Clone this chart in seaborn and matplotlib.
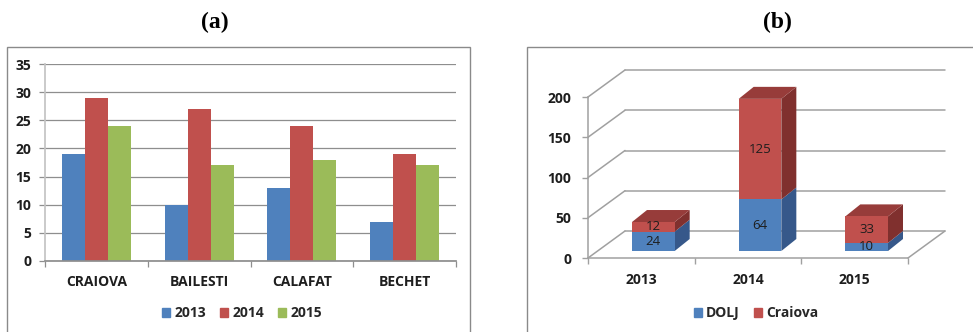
import numpy as np
import pandas as pd
import matplotlib
matplotlib.use("Agg")
import matplotlib.pyplot as plt
import seaborn as sns
from matplotlib.patches import Rectangle, Polygon
from matplotlib.lines import Line2D
from matplotlib.transforms import ScaledTranslation, IdentityTransform

# ---- panel (a): cases per town and year ----
towns = ["CRAIOVA", "BAILESTI", "CALAFAT", "BECHET"]
years_a = ["2013", "2014", "2015"]
v2013 = [19, 10, 13, 7]
v2014 = [29, 27, 24, 19]
v2015 = [24, 17, 18, 17]
yticks_a = [0, 5, 10, 15, 20, 25, 30, 35]

# ---- panel (b): DOLJ vs Craiova, stacked ----
years_b = ["2013", "2014", "2015"]
dolj = [24, 64, 10]
craiova = [12, 125, 33]
yticks_b = [0, 50, 100, 150, 200]

BLUE, RED, GREEN = "#4F81BD", "#C0504D", "#9BBB59"
BLUE_SIDE, RED_SIDE, RED_TOP = "#36588A", "#80302E", "#973C3A"
GRID = "#8E8E8E"
FRAME = "#8A8A8A"
TXT = "#1E1E1E"
FS = 10

sns.set_theme(style="white")
plt.rcParams["font.family"] = ["Open Sans", "DejaVu Sans"]

W, H = 973, 332
fig = plt.figure(figsize=(W / 100, H / 100), dpi=100)


def box(x0, y_top, x1, y_bot):
    return [x0 / W, 1 - y_bot / H, (x1 - x0) / W, (y_bot - y_top) / H]


# panel frames
fig.add_artist(Rectangle((7 / W, -0.05), (470 - 7) / W, 1 - 47 / H + 0.05,
                         transform=fig.transFigure, fill=False,
                         edgecolor=FRAME, lw=1))
fig.add_artist(Rectangle((527 / W, -0.05), (1000 - 527) / W, 1 - 47 / H + 0.05,
                         transform=fig.transFigure, fill=False,
                         edgecolor=FRAME, lw=1))

# panel titles
for label, xc in [("(a)", 215), ("(b)", 777)]:
    fig.text(xc / W, 1 - 22 / H, label, ha="center", va="center",
             family="Liberation Serif", weight="bold", size=17, color="black")

# ================= panel (a) =================
ax1 = fig.add_axes(box(45, 64, 456, 261))
rows = []
for yr, vals in zip(years_a, [v2013, v2014, v2015]):
    for t, v in zip(towns, vals):
        rows.append({"town": t, "year": yr, "value": v})
df_a = pd.DataFrame(rows)
sns.barplot(data=df_a, x="town", y="value", hue="year", order=towns,
            hue_order=years_a, palette=[BLUE, RED, GREEN], width=0.67, gap=0,
            saturation=1, errorbar=None, linewidth=0, legend=False, ax=ax1)
ax1.set_xlim(-0.5, len(towns) - 0.5)
ax1.set_ylim(0, 35)
ax1.set_yticks(yticks_a)
ax1.set_xlabel("")
ax1.set_ylabel("")
ax1.yaxis.grid(True, color=GRID, lw=0.9)
ax1.set_axisbelow(True)
for s in ["top", "right"]:
    ax1.spines[s].set_visible(False)
ax1.spines["left"].set_color("#C4C4C4")
ax1.spines["bottom"].set_color(GRID)
ax1.set_xticks(np.arange(-0.5, len(towns)), minor=True)
ax1.tick_params(axis="x", which="major", length=0, pad=10,
                labelsize=FS, labelcolor=TXT)
ax1.tick_params(axis="x", which="minor", length=4, color=GRID, width=0.9,
                direction="out", bottom=True)
ax1.tick_params(axis="y", length=4, color=GRID, width=0.9, direction="out",
                left=True, pad=6, labelsize=FS, labelcolor=TXT)
for lab in ax1.get_xticklabels() + ax1.get_yticklabels():
    lab.set_fontweight("bold")

h_a = [Rectangle((0, 0), 1, 1, color=c) for c in [BLUE, RED, GREEN]]
fig.legend(h_a, years_a, loc="center", bbox_to_anchor=(242 / W, 1 - 313 / H),
           ncol=3, frameon=False, handlelength=0.6, handleheight=0.6,
           handletextpad=0.3, columnspacing=1.0,
           prop={"weight": "bold", "size": FS})

# ================= panel (b) =================
ax2 = fig.add_axes(box(588, 97, 908, 258))
totals = [d + c for d, c in zip(dolj, craiova)]
sns.barplot(x=years_b, y=totals, color=RED, width=0.4, saturation=1,
            errorbar=None, linewidth=0, ax=ax2)
sns.barplot(x=years_b, y=dolj, color=BLUE, width=0.4, saturation=1,
            errorbar=None, linewidth=0, ax=ax2)
ax2.set_xlim(-0.5, len(years_b) - 0.5)
ax2.set_ylim(0, 200)
ax2.set_yticks(yticks_b)

# oblique depth (pixels): floor/back wall, bar offset and bar depth
FLOOR = np.array([37.0, 27.0])
OFF = np.array([12.0, 7.0])
DEPTH = np.array([15.0, 12.0])


def px(x, y):
    return ax2.transData.transform((x, y))


def seg(p, q, **kw):
    ln = Line2D([p[0], q[0]], [p[1], q[1]], transform=IdentityTransform(),
                clip_on=False, **kw)
    ax2.add_line(ln)


x0, x1 = ax2.get_xlim()
for t in yticks_b:
    seg(px(x0, t) + FLOOR, px(x1, t) + FLOOR, color="#A0A0A0", lw=1.1, zorder=0)
    seg(px(x0, t), px(x0, t) + FLOOR, color="#A0A0A0", lw=1.1, zorder=0)
seg(px(x1, 0), px(x1, 0) + FLOOR, color="#A0A0A0", lw=1.1, zorder=0)

# shift bar fronts into the scene
shift = ScaledTranslation(OFF[0] / 100, OFF[1] / 100, fig.dpi_scale_trans)
n = len(years_b)
red_p = ax2.patches[:n]
blue_p = ax2.patches[n:2 * n]
for p in red_p + blue_p:
    p.set_transform(ax2.transData + shift)
    p.set_zorder(3)

for pr, pb in zip(red_p, blue_p):
    xl, xr = pr.get_x(), pr.get_x() + pr.get_width()
    yb, yt = pb.get_height(), pr.get_height()
    # blue side
    a, b = px(xr, 0) + OFF, px(xr, yb) + OFF
    ax2.add_patch(Polygon([a, b, b + DEPTH, a + DEPTH], closed=True,
                          facecolor=BLUE_SIDE, lw=0,
                          transform=IdentityTransform(), clip_on=False, zorder=2))
    # red side
    a, b = px(xr, yb) + OFF, px(xr, yt) + OFF
    ax2.add_patch(Polygon([a, b, b + DEPTH, a + DEPTH], closed=True,
                          facecolor=RED_SIDE, lw=0,
                          transform=IdentityTransform(), clip_on=False, zorder=2))
    # red top
    a, b = px(xl, yt) + OFF, px(xr, yt) + OFF
    ax2.add_patch(Polygon([a, b, b + DEPTH, a + DEPTH], closed=True,
                          facecolor=RED_TOP, lw=0,
                          transform=IdentityTransform(), clip_on=False, zorder=2))

# segment value labels
for i, (d, c) in enumerate(zip(dolj, craiova)):
    ax2.text(i, d / 2, str(d), ha="center", va="center", size=9.5, color=TXT,
             transform=ax2.transData + shift, zorder=5)
    ax2.text(i, d + c / 2, str(c), ha="center", va="center", size=9.5,
             color=TXT, transform=ax2.transData + shift, zorder=5)

for s in ["top", "right"]:
    ax2.spines[s].set_visible(False)
ax2.spines["left"].set_color("#A0A0A0")
ax2.spines["bottom"].set_color("#A0A0A0")
ax2.spines["left"].set_linewidth(1.1)
ax2.spines["bottom"].set_linewidth(1.1)
ax2.set_xticks(np.arange(-0.5, n), minor=True)
ax2.tick_params(axis="x", which="major", length=0, pad=11,
                labelsize=FS, labelcolor=TXT)
ax2.tick_params(axis="x", which="minor", length=4, color="#A0A0A0", width=1,
                direction="out", bottom=True)
ax2.tick_params(axis="y", length=4, color="#A0A0A0", width=1, direction="out",
                left=True, pad=8, labelsize=FS, labelcolor=TXT)
for lab in ax2.get_xticklabels() + ax2.get_yticklabels():
    lab.set_fontweight("bold")

h_b = [Rectangle((0, 0), 1, 1, color=c) for c in [BLUE, RED]]
fig.legend(h_b, ["DOLJ", "Craiova"], loc="center",
           bbox_to_anchor=(756 / W, 1 - 313 / H), ncol=2, frameon=False,
           handlelength=0.6, handleheight=0.6, handletextpad=0.3,
           columnspacing=1.0, prop={"weight": "bold", "size": FS})

fig.savefig("out.png", dpi=100)
